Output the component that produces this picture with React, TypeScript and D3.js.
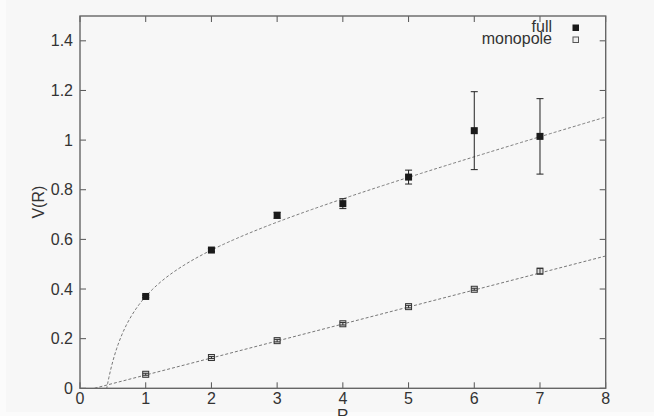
import * as d3 from 'd3'
import React from 'react'

const R = [1, 2, 3, 4, 5, 6, 7]
const fullV = [0.37, 0.557, 0.697, 0.744, 0.851, 1.038, 1.015]
const fullErr = [0.005, 0.006, 0.012, 0.02, 0.028, 0.157, 0.152]
const monoV = [0.0565, 0.124, 0.192, 0.26, 0.329, 0.399, 0.472]
const monoErr = [0.004, 0.004, 0.005, 0.005, 0.005, 0.004, 0.011]
const xTicks = [0, 1, 2, 3, 4, 5, 6, 7, 8]
const yTicks = [0, 0.2, 0.4, 0.6, 0.8, 1, 1.2, 1.4]

// fit parameters
const fullFit = { a: 0.5176, sigma: 0.0754, e: 0.223 } // V = a + sigma R - e/R
const monoFit = { slope: 0.0685, intercept: -0.0149 }

const W = 654
const H = 416
const margin = { left: 80, right: 48.3, top: 16, bottom: 27.7 }

const x = d3.scaleLinear().domain([0, 8]).range([margin.left, W - margin.right])
const y = d3.scaleLinear().domain([0, 1.5]).range([H - margin.bottom, margin.top])

const font = '"Liberation Sans", Arial, Helvetica, sans-serif'

const App = () => {
    const line = d3
        .line<number>()
        .x(r => x(r))
        .y(r => y(r))
    const fullPath = d3
        .line<number>()
        .x(r => x(r))
        .y(r => y(fullFit.a + fullFit.sigma * r - fullFit.e / r))(d3.range(0.3, 8.0001, 0.02))
    const monoPath = d3
        .line<number>()
        .x(r => x(r))
        .y(r => y(monoFit.intercept + monoFit.slope * r))([0, 8])

    const [x0, x1] = x.range()
    const [y0, y1] = y.range()

    return (
        <div style={{ position: 'fixed', left: 0, top: 0, width: W, height: H, background: '#fbfbfb' }}>
            <svg width={W} height={H} style={{ display: 'block' }}>
                <defs>
                    <clipPath id="plot">
                        <rect x={x0} y={y1} width={x1 - x0} height={y0 - y1} />
                    </clipPath>
                </defs>
                <rect x={6} y={0} width={W - 6} height={412} fill="#f7f7f7" />

                {/* fit curves */}
                <g clipPath="url(#plot)" fill="none" stroke="#777" strokeWidth={1} strokeDasharray="3,2">
                    <path d={fullPath} />
                    <path d={monoPath} />
                </g>

                {/* ticks */}
                <g stroke="#555" strokeWidth={1}>
                    {xTicks.map(t => (
                        <g key={'x' + t}>
                            <line x1={x(t)} x2={x(t)} y1={y0} y2={y0 - 6} />
                            <line x1={x(t)} x2={x(t)} y1={y1} y2={y1 + 6} />
                        </g>
                    ))}
                    {yTicks.map(t => (
                        <g key={'y' + t}>
                            <line x1={x0} x2={x0 + 6} y1={y(t)} y2={y(t)} />
                            <line x1={x1} x2={x1 - 6} y1={y(t)} y2={y(t)} />
                        </g>
                    ))}
                </g>

                {/* frame */}
                <rect x={x0} y={y1} width={x1 - x0} height={y0 - y1} fill="none" stroke="#666" strokeWidth={1.4} />

                {/* tick labels */}
                <g fontFamily={font} fontSize={16} fill="#333">
                    {xTicks.map(t => (
                        <text key={'xl' + t} x={x(t)} y={404} textAnchor="middle">
                            {t}
                        </text>
                    ))}
                    {yTicks.map(t => (
                        <text key={'yl' + t} x={73} y={y(t)} dy="0.35em" textAnchor="end">
                            {d3.format('~g')(t)}
                        </text>
                    ))}
                    <text x={x(4)} y={421} textAnchor="middle">
                        R
                    </text>
                    <text transform={`translate(44, ${y(0.75)}) rotate(-90)`} textAnchor="middle">
                        V(R)
                    </text>
                </g>

                {/* full points */}
                <g>
                    {R.map((r, i) => (
                        <g key={'f' + r} stroke="#222" strokeWidth={1}>
                            <line x1={x(r)} x2={x(r)} y1={y(fullV[i] - fullErr[i])} y2={y(fullV[i] + fullErr[i])} />
                            <line x1={x(r) - 3.5} x2={x(r) + 3.5} y1={y(fullV[i] - fullErr[i])} y2={y(fullV[i] - fullErr[i])} />
                            <line x1={x(r) - 3.5} x2={x(r) + 3.5} y1={y(fullV[i] + fullErr[i])} y2={y(fullV[i] + fullErr[i])} />
                            <rect x={x(r) - 3.5} y={y(fullV[i]) - 3.5} width={7} height={7} fill="#1a1a1a" stroke="none" />
                        </g>
                    ))}
                </g>

                {/* monopole points */}
                <g>
                    {R.map((r, i) => (
                        <g key={'m' + r} stroke="#333" strokeWidth={1} fill="none">
                            <rect x={x(r) - 3} y={y(monoV[i]) - 3} width={6} height={6} fill="#ddd" />
                            <line x1={x(r)} x2={x(r)} y1={y(monoV[i] - monoErr[i])} y2={y(monoV[i] + monoErr[i])} />
                            <line x1={x(r) - 3} x2={x(r) + 3} y1={y(monoV[i] - monoErr[i])} y2={y(monoV[i] - monoErr[i])} />
                            <line x1={x(r) - 3} x2={x(r) + 3} y1={y(monoV[i] + monoErr[i])} y2={y(monoV[i] + monoErr[i])} />
                        </g>
                    ))}
                </g>

                {/* legend */}
                <g fontFamily={font} fontSize={16} fill="#333">
                    <text x={552} y={32} textAnchor="end">
                        full
                    </text>
                    <text x={552} y={43.5} textAnchor="end">
                        monopole
                    </text>
                    <rect x={572.5} y={24.5} width={6.5} height={6.5} fill="#1a1a1a" />
                    <rect x={573} y={37} width={5.5} height={5.5} fill="#eee" stroke="#555" strokeWidth={1} />
                </g>
            </svg>
        </div>
    )
}

export default App
